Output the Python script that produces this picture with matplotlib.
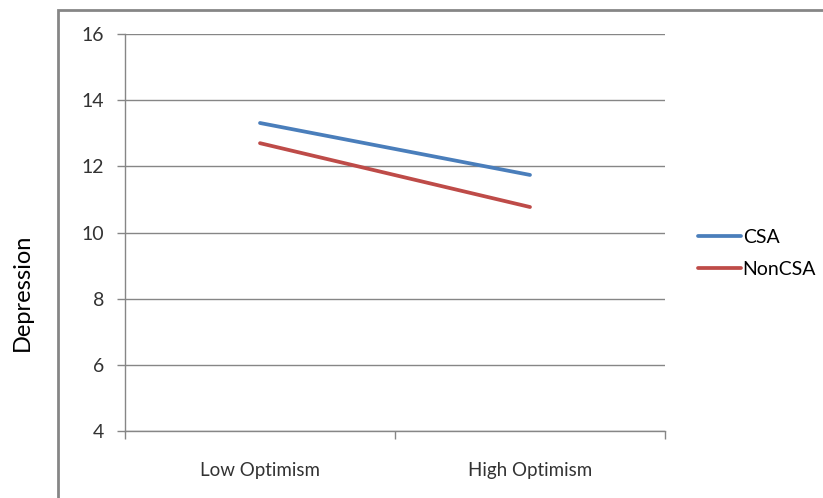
import matplotlib.pyplot as plt
from matplotlib.patches import Rectangle

categories = ["Low Optimism", "High Optimism"]
csa = [13.31, 11.74]
noncsa = [12.70, 10.77]
yticks = [4, 6, 8, 10, 12, 14, 16]

plt.rcParams['font.family'] = ['Lato', 'DejaVu Sans']

fig = plt.figure(figsize=(8.23, 4.98), dpi=100)
ax = fig.add_axes([125/823, 1-431/498, 540/823, 397/498])

x = [0.5, 1.5]
ax.plot(x, csa, color="#4A7EBB", lw=2.7, solid_capstyle="round", label="CSA")
ax.plot(x, noncsa, color="#BE4B48", lw=2.7, solid_capstyle="round", label="NonCSA")

ax.set_xlim(0, 2)
ax.set_ylim(4, 16)
ax.set_yticks(yticks)
ax.set_yticklabels([str(t) for t in yticks])
ax.set_xticks([0, 1, 2])
ax.set_xticklabels([])
ax.set_xticks(x, minor=True)
ax.set_xticklabels(categories, minor=True)
ax.tick_params(axis="x", which="minor", length=0, pad=22, labelsize=13.5, colors="#333333")
ax.tick_params(axis="x", which="major", length=6, color="#868686", width=1)
ax.tick_params(axis="y", length=6, color="#868686", width=1, pad=9, labelsize=14, labelcolor="#333333")
ax.grid(axis="y", color="#868686", lw=1)
ax.set_axisbelow(True)
for s in ["top", "right"]:
    ax.spines[s].set_visible(False)
for s in ["left", "bottom"]:
    ax.spines[s].set_color("#868686")
    ax.spines[s].set_linewidth(1)

ax.legend(loc="center left", bbox_to_anchor=(698/823, 1-253.5/498), bbox_transform=fig.transFigure,
          frameon=False, handlelength=2.2, handletextpad=0.1, labelspacing=0.75,
          borderpad=0, borderaxespad=0, fontsize=14)

fig.text(22/823, 1-292/498, "Depression", rotation=90, va="center", ha="center", fontsize=17)

fig.patches.append(Rectangle((58/823, -0.1), 1.0, 1.1 - 10/498, transform=fig.transFigure,
                             fill=False, edgecolor="#868686", lw=2, figure=fig))

fig.savefig("out.png", dpi=100)
